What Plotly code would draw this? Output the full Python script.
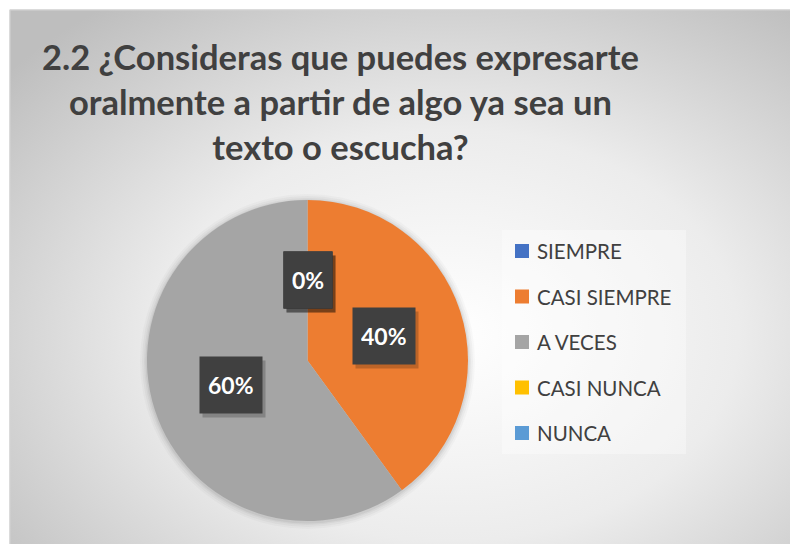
import base64
import math
import plotly.graph_objects as go

W, H = 790, 544

categories = ['SIEMPRE', 'CASI SIEMPRE', 'A VECES', 'CASI NUNCA', 'NUNCA']
values = [0, 2, 3, 0, 0]
colors = ['#4472C4', '#ED7D31', '#A5A5A5', '#FFC000', '#5B9BD5']
title_text = '2.2 ¿Consideras que puedes expresarte<br>oralmente a partir de algo ya sea un<br>texto o escucha?'

# pie geometry in screen pixels
cx, cy, r = 307.5, 360.5, 160.5

def px(x):
    return x / W

def py(y):
    return 1 - y / H

# radial gradient background like the excel chart area
svg = ('<svg xmlns="http://www.w3.org/2000/svg" width="800" height="560" '
       'viewBox="0 0 800 560" preserveAspectRatio="none">'
       '<defs><radialGradient id="g" cx="55%" cy="57%" r="72%">'
       '<stop offset="0" stop-color="#ffffff"/>'
       '<stop offset="0.5" stop-color="#ececec"/>'
       '<stop offset="1" stop-color="#bebebe"/>'
       '</radialGradient></defs>'
       '<rect width="800" height="560" fill="url(#g)"/></svg>')
bg_src = 'data:image/svg+xml;base64,' + base64.b64encode(svg.encode()).decode()

fig = go.Figure(go.Pie(
    labels=categories,
    values=values,
    marker=dict(colors=colors, line=dict(width=0)),
    sort=False,
    direction='clockwise',
    rotation=0,
    textinfo='none',
    showlegend=False,
    domain=dict(x=[px(cx - r), px(cx + r)], y=[py(cy + r), py(cy - r)]),
))

fig.add_layout_image(dict(
    source=bg_src, xref='paper', yref='paper',
    x=px(10), y=py(10), sizex=px(800), sizey=1.05,
    xanchor='left', yanchor='top', sizing='stretch', layer='below',
))

shapes = []
annotations = []

# white page margin at top and left, with a light border line
shapes.append(dict(type='rect', xref='paper', yref='paper', x0=0, x1=1, y0=py(9.5), y1=1,
                   fillcolor='white', line=dict(width=0), layer='below'))
shapes.append(dict(type='rect', xref='paper', yref='paper', x0=0, x1=px(9.5), y0=0, y1=1,
                   fillcolor='white', line=dict(width=0), layer='below'))
shapes.append(dict(type='line', xref='paper', yref='paper', x0=px(10), x1=1, y0=py(10), y1=py(10),
                   line=dict(color='#d4d4d4', width=1)))
shapes.append(dict(type='line', xref='paper', yref='paper', x0=px(10), x1=px(10), y0=0, y1=py(10),
                   line=dict(color='#d4d4d4', width=1)))

# soft glow behind the pie
for grow, alpha in [(7, 0.025), (5, 0.03), (3, 0.04), (1.5, 0.05)]:
    shapes.append(dict(type='circle', xref='paper', yref='paper',
                       x0=px(cx - r - grow), x1=px(cx + r + grow),
                       y0=py(cy + r + grow + 1), y1=py(cy - r - grow + 1),
                       fillcolor=f'rgba(0,0,0,{alpha})', line=dict(width=0), layer='below'))

# data labels in dark boxes, placed at half radius on each slice's mid angle
total = sum(values)
cum = 0
for v in values:
    ang = (cum + v / 2) / total * 2 * math.pi
    cum += v
    lx = cx + 0.5 * r * math.sin(ang)
    ly = cy - 0.5 * r * math.cos(ang)
    txt = f'{v / total:.0%}'
    common = dict(x=px(lx), y=py(ly), xref='paper', yref='paper',
                  xanchor='center', yanchor='middle',
                  showarrow=False, height=40, borderpad=8,
                  font=dict(family='Lato', size=23, color='white'))
    annotations.append(dict(common, text=f'<b>{txt}</b>', bgcolor='rgba(0,0,0,0.2)',
                            font=dict(family='Lato', size=23, color='rgba(0,0,0,0)'),
                            xshift=3, yshift=-4))
    annotations.append(dict(common, text=f'<b>{txt}</b>', bgcolor='#404040'))

# legend
shapes.append(dict(type='rect', xref='paper', yref='paper',
                   x0=px(502), x1=px(686), y0=py(454), y1=py(230),
                   fillcolor='rgba(255,255,255,0.35)', line=dict(width=0), layer='below'))
for i, (lab, col) in enumerate(zip(categories, colors)):
    yy = 251 + i * 45.5
    shapes.append(dict(type='rect', xref='paper', yref='paper',
                       x0=px(515), x1=px(529), y0=py(yy + 7), y1=py(yy - 7),
                       fillcolor=col, line=dict(width=0)))
    annotations.append(dict(x=px(535), y=py(yy), xref='paper', yref='paper',
                            xanchor='left', yanchor='middle', showarrow=False,
                            text=lab, font=dict(family='Lato', size=20.5, color='#404040')))

# title
annotations.append(dict(x=px(340), y=py(101), xref='paper', yref='paper',
                        xanchor='center', yanchor='middle', showarrow=False,
                        text='<b>' + title_text + '</b>',
                        font=dict(family='Lato', size=34.5, color='#404040')))

fig.update_layout(
    width=W, height=H,
    margin=dict(l=0, r=0, t=0, b=0),
    paper_bgcolor='#c4c4c4',
    plot_bgcolor='#c4c4c4',
    shapes=shapes,
    annotations=annotations,
    showlegend=False,
)

# drop the default page margin so the chart fills the window
fig.write_html('out.html', config=dict(displayModeBar=False),
               post_script="document.body.style.margin='0';document.body.style.overflow='hidden';")
